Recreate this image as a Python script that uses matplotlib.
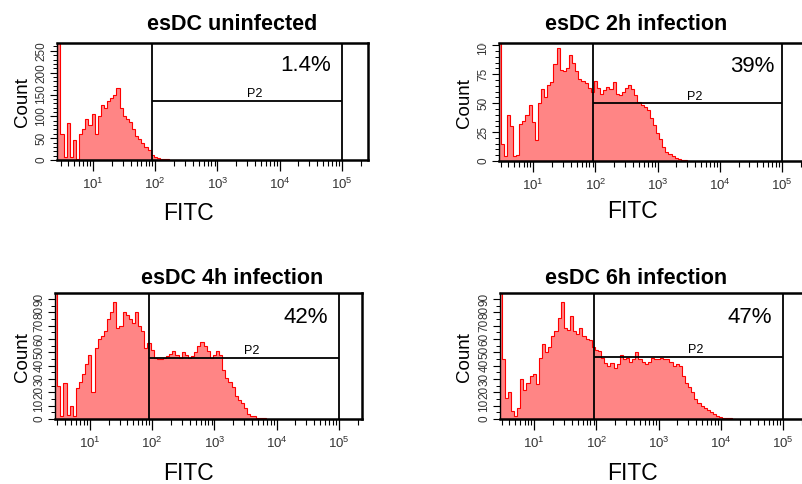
import numpy as np
import matplotlib
matplotlib.use("Agg")
import matplotlib.pyplot as plt
from matplotlib.ticker import NullFormatter, FixedLocator
from matplotlib.transforms import Bbox, TransformedBbox, blended_transform_factory

plt.rcParams["font.family"] = ["Liberation Sans", "DejaVu Sans"]
plt.rcParams["mathtext.fontset"] = "custom"
plt.rcParams["mathtext.rm"] = "Liberation Sans"
plt.rcParams["mathtext.it"] = "Liberation Sans:italic"
plt.rcParams["mathtext.bf"] = "Liberation Sans:bold"

# histogram bins: log10(FITC) centres start at 0.45, 0.05 decade wide
log_start = 0.45
log_step = 0.05

titles = ["esDC uninfected", "esDC 2h infection", "esDC 4h infection", "esDC 6h infection"]
percents = ["1.4%", "39%", "42%", "47%"]
gate_counts = [135, 50, 46, 46.5]

counts_uninf = [300, 60, 8, 85, 6, 45, 3, 60, 72, 95,
                80, 105, 60, 100, 125, 118, 135, 142, 150, 165,
                120, 100, 93, 88, 70, 56, 48, 38, 30, 22,
                12, 8, 5, 3, 2, 2, 1, 1, 1, 0]
counts_2h = [110, 15, 4, 40, 30, 4, 5, 32, 35, 40,
             48, 34, 18, 50, 62, 55, 66, 68, 84, 98,
             79, 78, 80, 92, 85, 78, 71, 69, 67, 63,
             60, 69, 63, 58, 61, 64, 62, 68, 58, 57,
             60, 63, 66, 62, 57, 51, 48, 47, 44, 37,
             31, 24, 19, 12, 8, 6, 4, 3, 2, 1,
             1, 0]
counts_4h = [100, 25, 2, 27, 3, 10, 2, 23, 28, 34,
             41, 48, 20, 53, 60, 62, 66, 75, 80, 88,
             68, 70, 80, 78, 75, 72, 80, 70, 66, 53,
             57, 52, 46, 45, 45, 46, 47, 49, 51, 48,
             46, 50, 48, 46, 47, 50, 55, 58, 55, 51,
             46, 48, 51, 48, 37, 31, 28, 24, 17, 14,
             12, 8, 4, 2, 2, 1, 1, 0.5, 0]
counts_6h = [100, 45, 16, 20, 6, 2, 8, 30, 22, 27,
             32, 34, 26, 46, 56, 50, 54, 62, 66, 76,
             88, 68, 67, 77, 66, 64, 68, 62, 60, 59,
             54, 52, 51, 46, 42, 40, 42, 38, 41, 48,
             45, 46, 43, 45, 50, 45, 43, 41, 43, 46,
             45, 45, 46, 45, 45, 43, 40, 41, 40, 32,
             27, 24, 20, 15, 12, 10, 8, 7, 5, 3.5,
             2.5, 1.5, 1, 1, 0.5, 0]

W, H = 802, 484
fig = plt.figure(figsize=(W / 100, H / 100), dpi=100)


def px_axes(l, t, r, b):
    return fig.add_axes([l / W, 1 - b / H, (r - l) / W, (b - t) / H])


def draw(ax, counts, xlog, ymax, ymajor, yminor, gate_lo, gate_y, pct, pct_x):
    centers = log_start + log_step * np.arange(len(counts))
    edges = 10 ** np.append(centers - log_step / 2, centers[-1] + log_step / 2)
    ax.stairs(counts, edges, fill=True, color="#ff8585", lw=0)
    ax.stairs(counts, edges, color="#ff0000", lw=0.8)

    ax.set_xscale("log")
    ax.set_xlim(10 ** xlog[0], 10 ** xlog[1])
    ax.set_ylim(0, ymax)

    # gate P2
    ax.axvline(10 ** gate_lo, color="black", lw=1.3)
    ax.axvline(1e5, color="black", lw=1.3)
    ax.hlines(gate_y, 10 ** gate_lo, 1e5, color="black", lw=1.3)
    ax.text(10 ** 3.6, gate_y + ymax * 0.005, "P2", ha="center", va="bottom", fontsize=9)
    tr = blended_transform_factory(ax.transData, ax.transAxes)
    ax.text(10 ** pct_x, 0.805, pct, transform=tr, ha="right", va="center", fontsize=16)

    ax.xaxis.set_major_locator(FixedLocator([1e1, 1e2, 1e3, 1e4, 1e5]))
    minors = [m * 10 ** d for d in range(0, 6) for m in range(2, 10)]
    ax.xaxis.set_minor_locator(FixedLocator(minors))
    ax.xaxis.set_minor_formatter(NullFormatter())
    ax.tick_params(axis="x", which="major", direction="out", length=8, width=0.9,
                   labelsize=9.5, pad=4, labelcolor="#333333")
    ax.tick_params(axis="x", which="minor", direction="out", length=4.5, width=0.8)

    ax.set_yticks(ymajor)
    ax.set_yticks(yminor, minor=True)
    ax.tick_params(axis="y", which="major", direction="out", length=5, width=0.8,
                   labelsize=8.5, pad=2, labelcolor="#333333")
    ax.tick_params(axis="y", which="minor", direction="out", length=3, width=0.7)
    clip = TransformedBbox(Bbox([[-0.5, -0.3], [1, 1]]), ax.transAxes)
    for lab in ax.get_yticklabels():
        lab.set_rotation(90)
        lab.set_va("center")
        lab.set_clip_on(True)
        lab.set_clip_box(clip)

    for side in ["top", "right", "bottom"]:
        ax.spines[side].set_linewidth(1.8)
    ax.spines["left"].set_linewidth(1.0)


ax1 = px_axes(57, 43, 368, 160)
draw(ax1, counts_uninf, (0.42, 5.42), 268, np.arange(0, 251, 50), np.arange(0, 261, 10),
     1.946, gate_counts[0], percents[0], 4.82)
ax2 = px_axes(499, 43, 810, 161)
draw(ax2, counts_2h, (0.45, 5.45), 102, np.arange(0, 101, 25), np.arange(0, 101, 5),
     1.96, gate_counts[1], percents[1], 4.88)
ax3 = px_axes(55, 293, 362, 419)
draw(ax3, counts_4h, (0.44, 5.37), 94.5, np.arange(0, 91, 10), np.arange(0, 91, 5),
     1.95, gate_counts[2], percents[2], 4.82)
ax4 = px_axes(500, 293, 811, 419)
draw(ax4, counts_6h, (0.45, 5.45), 94.5, np.arange(0, 91, 10), np.arange(0, 91, 5),
     1.96, gate_counts[3], percents[3], 4.83)

# titles and axis labels placed in pixel positions
title_pos = [(232, 25), (636, 25), (232, 278), (636, 278)]
fitc_pos = [(188, 213), (632, 212), (188, 474), (632, 474)]
count_pos = [(22, 102), (465, 103), (22, 357), (465, 357)]
for i in range(4):
    tx, ty = title_pos[i]
    fig.text(tx / W, 1 - ty / H, titles[i], ha="center", va="center",
             fontsize=15.5, fontweight="bold")
    fx, fy = fitc_pos[i]
    fig.text(fx / W, 1 - fy / H, "FITC", ha="center", va="center", fontsize=16.5)
    cx, cy = count_pos[i]
    fig.text(cx / W, 1 - cy / H, "Count", ha="center", va="center", fontsize=13.5,
             rotation=90)

fig.savefig("out.png", dpi=100)
